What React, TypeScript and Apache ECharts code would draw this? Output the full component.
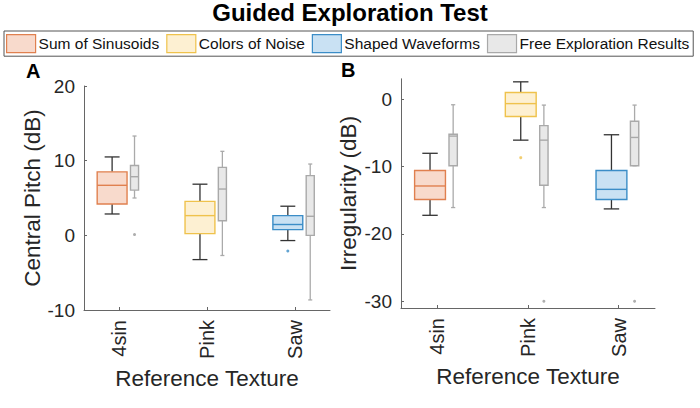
import React, { useEffect, useRef } from "react";
import * as echarts from "echarts";

// ---- data ----
const categories = ["4sin", "Pink", "Saw"];
const groupNames = ["Sum of Sinusoids", "Colors of Noise", "Shaped Waveforms", "Free Exploration Results"];
const groupFills = ["#F8DACC", "#FDF0D2", "#C9E1F3", "#E8E8E8"];
const groupStrokes = ["#E0804F", "#EFC24C", "#3B8DC7", "#A9A9A9"];

// box stats: [lower whisker, q1, median, q3, upper whisker]
// Panel A: Central Pitch (dB)
const pitchSines = [2.86, 4.2, 6.7, 8.5, 10.5];
const pitchNoise = [-3.25, 0.23, 2.64, 4.55, 6.85];
const pitchWaves = [-0.7, 0.76, 1.45, 2.64, 3.9];
const pitchFree = [
  [5.0, 6.05, 7.85, 9.35, 13.3],
  [-2.7, 1.95, 6.2, 9.1, 11.25],
  [-8.65, 0.0, 2.55, 8.0, 9.55],
];
const pitchNoiseOutliers: number[] = [];
const pitchWaveOutliers = [-2.1];
const pitchFreeOutliers = [[1, 0.1]];

// Panel B: Irregularity (dB)
const irrSines = [-17.25, -14.9, -12.9, -10.6, -8.05];
const irrNoise = [-6.1, -2.6, -0.68, 0.97, 2.55];
const irrWaves = [-16.3, -14.9, -13.4, -10.6, -5.3];
const irrFree = [
  [-16.1, -9.9, -5.5, -5.22, -0.85],
  [-16.1, -12.8, -6.1, -3.95, -0.9],
  [-9.9, -9.9, -5.7, -3.3, -0.9],
];
const irrNoiseOutliers = [-8.7];
const irrWaveOutliers: number[] = [];
const irrFreeOutliers = [
  [2, -30],
  [3, -30],
];

const pitchTicks = [-10, 0, 10, 20];
const irrTicks = [-30, -20, -10, 0];

const FONT = "Liberation Sans, Arial, Helvetica, sans-serif";
const TXT = "#262626";

const COLORED_OFFSET = -0.08;
const COLORED_WIDTH = 0.34;
const FREE_OFFSET = 0.175;
const FREE_WIDTH = 0.092;

function boxRenderer(offset: number, width: number, fill: string, stroke: string, whisker: string, capRatio: number) {
  return (params: any, api: any) => {
    const x = api.value(0) + offset;
    const lw = api.value(1), q1 = api.value(2), med = api.value(3), q3 = api.value(4), uw = api.value(5);
    const cx = api.coord([x, med])[0];
    const yLw = api.coord([x, lw])[1];
    const yQ1 = api.coord([x, q1])[1];
    const yMed = api.coord([x, med])[1];
    const yQ3 = api.coord([x, q3])[1];
    const yUw = api.coord([x, uw])[1];
    const halfW = api.size([width, 0])[0] / 2;
    const capHalf = halfW * capRatio;
    const wStyle = { stroke: whisker, lineWidth: 1.3 };
    return {
      type: "group",
      children: [
        { type: "line", shape: { x1: cx, y1: yQ3, x2: cx, y2: yUw }, style: wStyle },
        { type: "line", shape: { x1: cx, y1: yQ1, x2: cx, y2: yLw }, style: wStyle },
        { type: "line", shape: { x1: cx - capHalf, y1: yUw, x2: cx + capHalf, y2: yUw }, style: wStyle },
        { type: "line", shape: { x1: cx - capHalf, y1: yLw, x2: cx + capHalf, y2: yLw }, style: wStyle },
        {
          type: "rect",
          shape: { x: cx - halfW, y: yQ3, width: 2 * halfW, height: yQ1 - yQ3 },
          style: { fill, stroke, lineWidth: 1.4 },
        },
        { type: "line", shape: { x1: cx - halfW, y1: yMed, x2: cx + halfW, y2: yMed }, style: { stroke, lineWidth: 1.4 } },
      ],
    };
  };
}

function panelSeries(idx: number, sines: number[], noise: number[], waves: number[], free: number[][],
  noiseOut: number[], waveOut: number[], freeOut: number[][]) {
  const colored = [sines, noise, waves];
  const list: any[] = [];
  colored.forEach((stats, i) => {
    list.push({
      type: "custom",
      name: groupNames[i],
      xAxisIndex: idx,
      yAxisIndex: idx,
      renderItem: boxRenderer(COLORED_OFFSET, COLORED_WIDTH, groupFills[i], groupStrokes[i], "#333333", 0.5),
      encode: { x: 0, y: [1, 2, 3, 4, 5] },
      data: [[i + 1, ...stats]],
      z: 3,
    });
  });
  list.push({
    type: "custom",
    name: groupNames[3],
    xAxisIndex: idx,
    yAxisIndex: idx,
    renderItem: boxRenderer(FREE_OFFSET, FREE_WIDTH, groupFills[3], groupStrokes[3], "#AAAAAA", 0.5),
    encode: { x: 0, y: [1, 2, 3, 4, 5] },
    data: free.map((s, i) => [i + 1, ...s]),
    z: 3,
  });
  const outlierSets: { pts: number[][]; color: string }[] = [
    { pts: noiseOut.map((v) => [2 + COLORED_OFFSET, v]), color: groupStrokes[1] },
    { pts: waveOut.map((v) => [3 + COLORED_OFFSET, v]), color: groupStrokes[2] },
    { pts: freeOut.map((p) => [p[0] + FREE_OFFSET, p[1]]), color: "#9A9A9A" },
  ];
  outlierSets.forEach((o, k) => {
    list.push({
      type: "scatter",
      name: "outliers-" + idx + "-" + k,
      xAxisIndex: idx,
      yAxisIndex: idx,
      symbol: "circle",
      symbolSize: 3,
      itemStyle: { color: o.color },
      data: o.pts,
      z: 4,
    });
  });
  return list;
}

function xAxisDef(gridIndex: number, nameGap: number) {
  return {
    type: "value",
    gridIndex,
    min: 0.6,
    max: 3.4,
    name: "Reference Texture",
    nameLocation: "middle",
    nameGap,
    nameTextStyle: { fontFamily: FONT, fontSize: 22.5, color: TXT },
    axisLine: { show: true, onZero: false, lineStyle: { color: "#666666", width: 1 } },
    axisTick: { show: true, inside: true, length: 3, customValues: [1, 2, 3], lineStyle: { color: "#666666" } },
    axisLabel: {
      show: true,
      customValues: [1, 2, 3],
      rotate: 90,
      margin: 10,
      fontFamily: FONT,
      fontSize: 20,
      color: TXT,
      formatter: (v: number) => categories[Math.round(v) - 1] ?? "",
    },
    splitLine: { show: false },
  };
}

function yAxisDef(gridIndex: number, min: number, max: number, ticks: number[], name: string, nameGap: number) {
  return {
    type: "value",
    gridIndex,
    min,
    max,
    name,
    nameLocation: "middle",
    nameGap,
    nameTextStyle: { fontFamily: FONT, fontSize: 22.5, color: TXT },
    axisLine: { show: true, onZero: false, lineStyle: { color: "#666666", width: 1 } },
    axisTick: { show: true, inside: true, length: 3, customValues: ticks, lineStyle: { color: "#666666" } },
    axisLabel: { show: true, customValues: ticks, margin: 9, fontFamily: FONT, fontSize: 19, color: TXT },
    splitLine: { show: false },
  };
}

export default function App() {
  const ref = useRef<HTMLDivElement>(null);
  useEffect(() => {
    if (!ref.current) return;
    const chart = echarts.init(ref.current, null, { renderer: "svg" });
    chart.setOption({
      animation: false,
      backgroundColor: "#ffffff",
      title: {
        text: "Guided Exploration Test",
        left: "center",
        top: 0,
        padding: [0, 0, 0, 0],
        textStyle: { fontFamily: FONT, fontSize: 24, fontWeight: "bold", color: "#000" },
      },
      legend: {
        top: 31,
        left: 4,
        orient: "horizontal",
        itemWidth: 29,
        itemHeight: 18,
        itemGap: 7,
        padding: [3, 4, 3, 2],
        borderColor: "#555555",
        borderWidth: 1,
        selectedMode: false,
        textStyle: { fontFamily: FONT, fontSize: 15.5, color: "#111", padding: [0, 0, 0, -2] },
        data: groupNames.map((n, i) => ({
          name: n,
          icon: "rect",
          itemStyle: { color: groupFills[i], borderColor: groupStrokes[i], borderWidth: 1.2 },
        })),
      },
      graphic: [
        { type: "text", left: 26, top: 61, style: { text: "A", font: "bold 20px " + FONT, fill: "#000" } },
        { type: "text", left: 341, top: 60, style: { text: "B", font: "bold 20px " + FONT, fill: "#000" } },
      ],
      grid: [
        { left: 84, top: 86, width: 246, height: 224, containLabel: false },
        { left: 401, top: 78.8, width: 254, height: 229.2, containLabel: false },
      ],
      xAxis: [xAxisDef(0, 51), xAxisDef(1, 53)],
      yAxis: [
        yAxisDef(0, -10, 20, pitchTicks, "Central Pitch (dB)", 38),
        yAxisDef(1, -31, 3, irrTicks, "Irregularity (dB)", 41),
      ],
      series: [
        ...panelSeries(0, pitchSines, pitchNoise, pitchWaves, pitchFree, pitchNoiseOutliers, pitchWaveOutliers, pitchFreeOutliers),
        ...panelSeries(1, irrSines, irrNoise, irrWaves, irrFree, irrNoiseOutliers, irrWaveOutliers, irrFreeOutliers),
      ],
    });
    return () => chart.dispose();
  }, []);
  return (
    <div
      ref={ref}
      style={{ position: "fixed", left: 0, top: 0, width: 700, height: 408, background: "#fff" }}
    />
  );
}
